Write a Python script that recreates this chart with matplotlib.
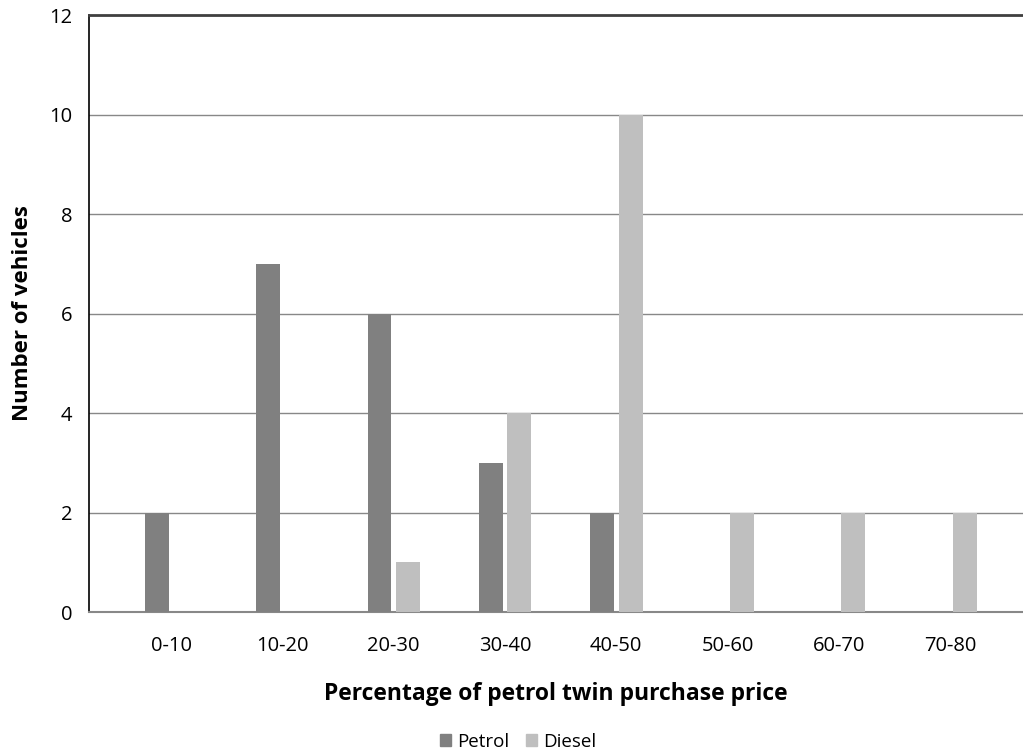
import matplotlib
matplotlib.use("Agg")
import matplotlib.pyplot as plt
import numpy as np
from matplotlib.patches import Patch

categories = ["0-10", "10-20", "20-30", "30-40", "40-50", "50-60", "60-70", "70-80"]
petrol = [2, 7, 6, 3, 2, 0, 0, 0]
diesel = [0, 0, 1, 4, 10, 2, 2, 2]

plt.rcParams['font.family'] = ['Open Sans', 'DejaVu Sans']

fig = plt.figure(figsize=(10.23, 7.54), dpi=100)
ax = fig.add_axes([89/1023, 1 - 612/754, (1023 - 89)/1023, (612 - 15)/754])

x = np.arange(len(categories))
w = 0.215
ax.bar(x - 0.127, petrol, width=w, color="#808080", zorder=3, label="Petrol")
ax.bar(x + 0.13, diesel, width=w, color="#bfbfbf", zorder=3, label="Diesel")

ax.set_xlim(-0.737, 7.655)
ax.set_ylim(0, 12)
ax.set_yticks(range(0, 13, 2))
ax.set_xticks(x)
ax.set_xticklabels(categories)
ax.tick_params(axis='both', length=0, labelsize=14.5, colors='black')
ax.tick_params(axis='x', pad=17)
ax.tick_params(axis='y', pad=12)

ax.yaxis.grid(True, color="#888888", linewidth=1.0, zorder=0)
ax.spines['right'].set_visible(False)
ax.spines['top'].set_color("#404040")
ax.spines['top'].set_linewidth(2.0)
ax.spines['left'].set_color("black")
ax.spines['left'].set_linewidth(1.2)
ax.spines['bottom'].set_color("#888888")
ax.spines['bottom'].set_linewidth(1.5)

ax.set_xlabel("Percentage of petrol twin purchase price", fontsize=16.5, fontweight='bold', labelpad=19)
ax.set_ylabel("Number of vehicles", fontsize=16, fontweight='bold', labelpad=12)

handles = [Patch(color="#808080", label="Petrol"), Patch(color="#bfbfbf", label="Diesel")]
fig.legend(handles=handles, loc='center', bbox_to_anchor=(518/1023, 1 - 742/754), ncol=2,
           frameon=False, fontsize=13.5, handlelength=0.6, handleheight=0.6,
           handletextpad=0.3, columnspacing=0.9)

fig.savefig("out.png", dpi=100)
